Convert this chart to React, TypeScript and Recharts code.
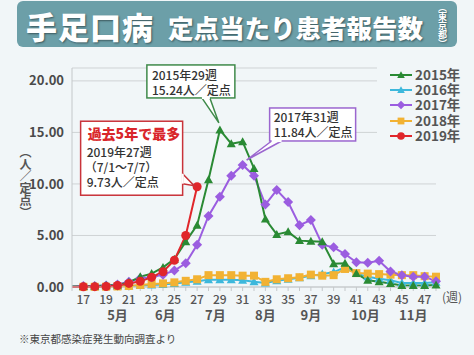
import { CartesianGrid, Line, LineChart, ReferenceDot, XAxis, YAxis } from "recharts";

const weeks = [16, 17, 18, 19, 20, 21, 22, 23, 24, 25, 26, 27, 28, 29, 30, 31, 32, 33, 34, 35, 36, 37, 38, 39, 40, 41, 42, 43, 44, 45, 46, 47, 48];

const y2015 = [0.05, 0.05, 0.1, 0.15, 0.2, 0.45, 1.0, 1.3, 1.9, 2.7, 4.4, 6.0, 10.4, 15.24, 13.9, 14.1, 11.5, 6.6, 5.1, 5.35, 4.5, 4.45, 4.4, 2.25, 2.3, 1.3, 0.65, 0.5, 0.35, 0.15, 0.15, 0.15, 0.2];
const y2016 = [0.0, 0.02, 0.03, 0.05, 0.08, 0.1, 0.15, 0.2, 0.25, 0.35, 0.45, 0.55, 0.7, 0.7, 0.7, 0.65, 0.5, 0.4, 0.6, 0.75, 0.9, 1.1, 1.25, 1.45, 1.9, 1.3, 1.0, 0.8, 0.65, 0.4, 0.4, 0.4, 0.45];
const y2017 = [0.05, 0.1, 0.1, 0.15, 0.25, 0.5, 0.85, 0.95, 1.2, 1.6, 2.3, 4.1, 6.9, 8.75, 10.8, 11.84, 10.8, 8.0, 9.4, 8.25, 6.0, 6.5, 4.1, 3.85, 3.2, 2.4, 2.35, 2.55, 1.5, 1.15, 1.0, 1.0, 0.55];
const y2018 = [0.0, 0.02, 0.02, 0.03, 0.05, 0.1, 0.2, 0.3, 0.35, 0.45, 0.6, 0.75, 1.15, 1.15, 1.15, 1.1, 1.1, 0.5, 0.75, 0.85, 0.95, 1.2, 1.1, 1.15, 1.75, 1.35, 1.3, 1.25, 1.2, 1.15, 1.15, 1.05, 1.0];
const y2019 = [0.0, 0.02, 0.03, 0.05, 0.15, 0.35, 0.55, 0.95, 1.48, 2.6, 5.0, 9.73];

const years = ["2015年", "2016年", "2017年", "2018年", "2019年"];
const colors = ["#2a8a34", "#3db8dc", "#9b5de0", "#f2b233", "#e0262b"];
const shapes = ["tri", "tri", "diamond", "square", "circle"];

const yTicks = [0, 5, 10, 15, 20];
const monthWeeks = [20, 24.2, 28.6, 33, 37, 41.8, 46];
const monthLabels = ["5月", "6月", "7月", "8月", "9月", "10月", "11月"];

const data = weeks.map((w, i) => ({
  week: w,
  y2015: y2015[i],
  y2016: y2016[i],
  y2017: y2017[i],
  y2018: y2018[i],
  y2019: i < y2019.length ? y2019[i] : null,
}));

const FONT = '"Noto Sans CJK JP", "Noto Sans", sans-serif';
const BG = "#f1f6f8";

function Marker({ kind, cx, cy, color, s = 1 }: any) {
  if (kind === "tri")
    return <path d={`M${cx},${cy - 4.5 * s}L${cx + 4.5 * s},${cy + 3.5 * s}L${cx - 4.5 * s},${cy + 3.5 * s}Z`} fill={color} />;
  if (kind === "diamond")
    return <path d={`M${cx},${cy - 5 * s}L${cx + 5 * s},${cy}L${cx},${cy + 5 * s}L${cx - 5 * s},${cy}Z`} fill={color} />;
  if (kind === "square")
    return <rect x={cx - 4 * s} y={cy - 4 * s} width={8 * s} height={8 * s} fill={color} />;
  return <circle cx={cx} cy={cy} r={4.5 * s} fill={color} />;
}

function dotFor(kind: string, color: string) {
  return (p: any) => {
    if (p.cx == null || p.cy == null || p.payload?.week === 16 || p.value == null)
      return <g key={p.key ?? p.index} />;
    return (
      <g key={p.key ?? p.index}>
        <Marker kind={kind} cx={p.cx} cy={p.cy} color={color} />
      </g>
    );
  };
}

function Callout({ cx, cy, color, box, tail, lines }: any) {
  if (cx == null || cy == null) return <g />;
  const [b1, b2, tip] = tail;
  return (
    <g>
      <path
        d={`M${cx + b1[0]},${cy + b1[1]}L${cx + tip[0]},${cy + tip[1]}L${cx + b2[0]},${cy + b2[1]}`}
        fill="#fff"
        stroke={color}
        strokeWidth={1.5}
      />
      <rect x={cx + box.dx} y={cy + box.dy} width={box.w} height={box.h} fill="#fff" stroke={color} strokeWidth={1.5} />
      <line x1={cx + b1[0]} y1={cy + b1[1]} x2={cx + b2[0]} y2={cy + b2[1]} stroke="#fff" strokeWidth={2.2} />
      {lines.map((l: any, i: number) => (
        <text
          key={i}
          x={cx + box.dx + l.x}
          y={cy + box.dy + l.y}
          fontSize={l.size ?? 12}
          fontWeight={l.bold ? 800 : 500}
          fill={l.color ?? "#333"}
          fontFamily={FONT}
        >
          {l.text}
        </text>
      ))}
    </g>
  );
}

function WeekTick({ x, y, payload }: any) {
  const v = payload.value;
  if (v % 2 === 0) return <g />;
  return (
    <text x={x} y={y} dy="0.71em" textAnchor="middle" fontSize={12} fill="#555" fontFamily={FONT} fontWeight={500}>
      {v}
    </text>
  );
}

function MonthTick({ x, y, payload }: any) {
  const idx = monthWeeks.indexOf(payload.value);
  return (
    <text x={x} y={y - 3} dominantBaseline="central" textAnchor="middle" fontSize={13} fill="#555" fontFamily={FONT} fontWeight={600}>
      {monthLabels[idx]}
    </text>
  );
}

export default function App() {
  const keys = ["y2015", "y2016", "y2017", "y2018", "y2019"];
  const drawOrder = [1, 3, 2, 0, 4];
  return (
    <div
      style={{
        position: "absolute",
        left: 0,
        top: 0,
        width: 474,
        height: 355,
        background: BG,
        fontFamily: FONT,
        overflow: "hidden",
      }}
    >
      <div
        style={{
          position: "absolute",
          left: 17,
          top: 1,
          width: 440,
          height: 46,
          background: "#6c9fa8",
          borderRadius: 6,
          color: "#fff",
          textShadow: "1px 1px 2px rgba(0,0,0,0.45)",
        }}
      >
        <span style={{ position: "absolute", left: 9, top: 2, fontSize: 31, fontWeight: 900, letterSpacing: 1, whiteSpace: "nowrap" }}>手足口病</span>
        <span style={{ position: "absolute", left: 151, top: 7, fontSize: 25.5, fontWeight: 800, whiteSpace: "nowrap" }}>定点当たり患者報告数</span>
        <span
          style={{
            position: "absolute",
            left: 421,
            top: 2,
            fontSize: 9,
            fontWeight: 700,
            writingMode: "vertical-rl",
            whiteSpace: "nowrap",
            lineHeight: 1,
          }}
        >
          （東京都）
        </span>
      </div>

      <LineChart
        width={474}
        height={355}
        data={data}
        margin={{ top: 68, right: 38, left: 0, bottom: 0 }}
        style={{ position: "absolute", left: 0, top: 0 }}
      >
        <CartesianGrid stroke="#cfd3d5" vertical={false} />
        <XAxis
          dataKey="week"
          type="number"
          domain={[16, 48]}
          ticks={weeks}
          interval={0}
          height={22}
          stroke="#c4c8ca"
          tickSize={4}
          tickMargin={4}
          tick={<WeekTick />}
          label={{ value: "(週)", position: "right", offset: 6, fill: "#555", fontSize: 12, fontFamily: FONT }}
        />
        <XAxis
          xAxisId="m"
          dataKey="week"
          type="number"
          domain={[16, 48]}
          allowDataOverflow
          ticks={monthWeeks}
          interval={0}
          height={46}
          axisLine={false}
          tickLine={false}
          tick={<MonthTick />}
        />
        <YAxis
          type="number"
          domain={[0, 21.25]}
          ticks={yTicks}
          width={72}
          stroke="#c4c8ca"
          tickLine={false}
          tickFormatter={(v: number) => v.toFixed(2)}
          tick={{ fill: "#4a4a4a", fontSize: 13, fontWeight: 600, fontFamily: FONT }}
        />
        {drawOrder.map((i) => (
          <Line
            key={keys[i]}
            dataKey={keys[i]}
            stroke={colors[i]}
            strokeWidth={2}
            type="linear"
            dot={dotFor(shapes[i], colors[i])}
            activeDot={false}
            connectNulls={false}
            isAnimationActive={false}
          />
        ))}
        <ReferenceDot
          x={29}
          y={15.24}
          r={3}
          ifOverflow="visible"
          shape={(p: any) => (
            <Callout
              cx={p.cx}
              cy={p.cy}
              color="#3f8a4a"
              box={{ dx: -73, dy: -65, w: 88, h: 33 }}
              tail={[[-18, -32], [-10, -32], [-1, -7]]}
              lines={[
                { x: 5, y: 15, text: "2015年29週" },
                { x: 5, y: 30, text: "15.24人／定点" },
              ]}
            />
          )}
        />
        <ReferenceDot
          x={31}
          y={11.84}
          r={3}
          ifOverflow="visible"
          shape={(p: any) => (
            <Callout
              cx={p.cx}
              cy={p.cy}
              color="#9b66cf"
              box={{ dx: 27, dy: -57, w: 86, h: 33 }}
              tail={[[29, -24], [39, -24], [4, -5]]}
              lines={[
                { x: 4, y: 14, text: "2017年31週" },
                { x: 4, y: 29, text: "11.84人／定点" },
              ]}
            />
          )}
        />
        <ReferenceDot
          x={27}
          y={9.73}
          r={3}
          ifOverflow="visible"
          shape={(p: any) => (
            <Callout
              cx={p.cx}
              cy={p.cy}
              color="#c9333a"
              box={{ dx: -116.5, dy: -65.5, w: 102, h: 74 }}
              tail={[[-14.5, -13], [-14.5, -3], [-3, -1]]}
              lines={[
                { x: 7, y: 18, text: "過去5年で最多", size: 14, bold: true, color: "#d9262b" },
                { x: 6, y: 36, text: "2019年27週" },
                { x: 4, y: 51, text: "（7/1〜7/7）" },
                { x: 6, y: 66, text: "9.73人／定点" },
              ]}
            />
          )}
        />
      </LineChart>

      <div
        style={{
          position: "absolute",
          left: 19,
          top: 146,
          writingMode: "vertical-rl",
          fontSize: 12,
          color: "#555",
          fontWeight: 600,
          lineHeight: 1,
          whiteSpace: "nowrap",
        }}
      >
        （人／定点）
      </div>

      <div
        style={{
          position: "absolute",
          left: 377,
          top: 67,
          width: 95,
          background: BG,
          paddingLeft: 12,
          boxSizing: "border-box",
        }}
      >
        {years.map((y, i) => (
          <div key={y} style={{ display: "flex", alignItems: "center", height: 15.3 }}>
            <svg width={24} height={12} style={{ flex: "none" }}>
              <line x1={1} y1={6} x2={23} y2={6} stroke={colors[i]} strokeWidth={2} />
              <Marker kind={shapes[i]} cx={12} cy={6} color={colors[i]} s={0.85} />
            </svg>
            <span style={{ marginLeft: 2, fontSize: 13.5, fontWeight: 700, color: "#555", lineHeight: 1 }}>{y}</span>
          </div>
        ))}
      </div>

      <div style={{ position: "absolute", left: 19, top: 334, fontSize: 10.5, color: "#444", lineHeight: 1 }}>
        ※東京都感染症発生動向調査より
      </div>
    </div>
  );
}
